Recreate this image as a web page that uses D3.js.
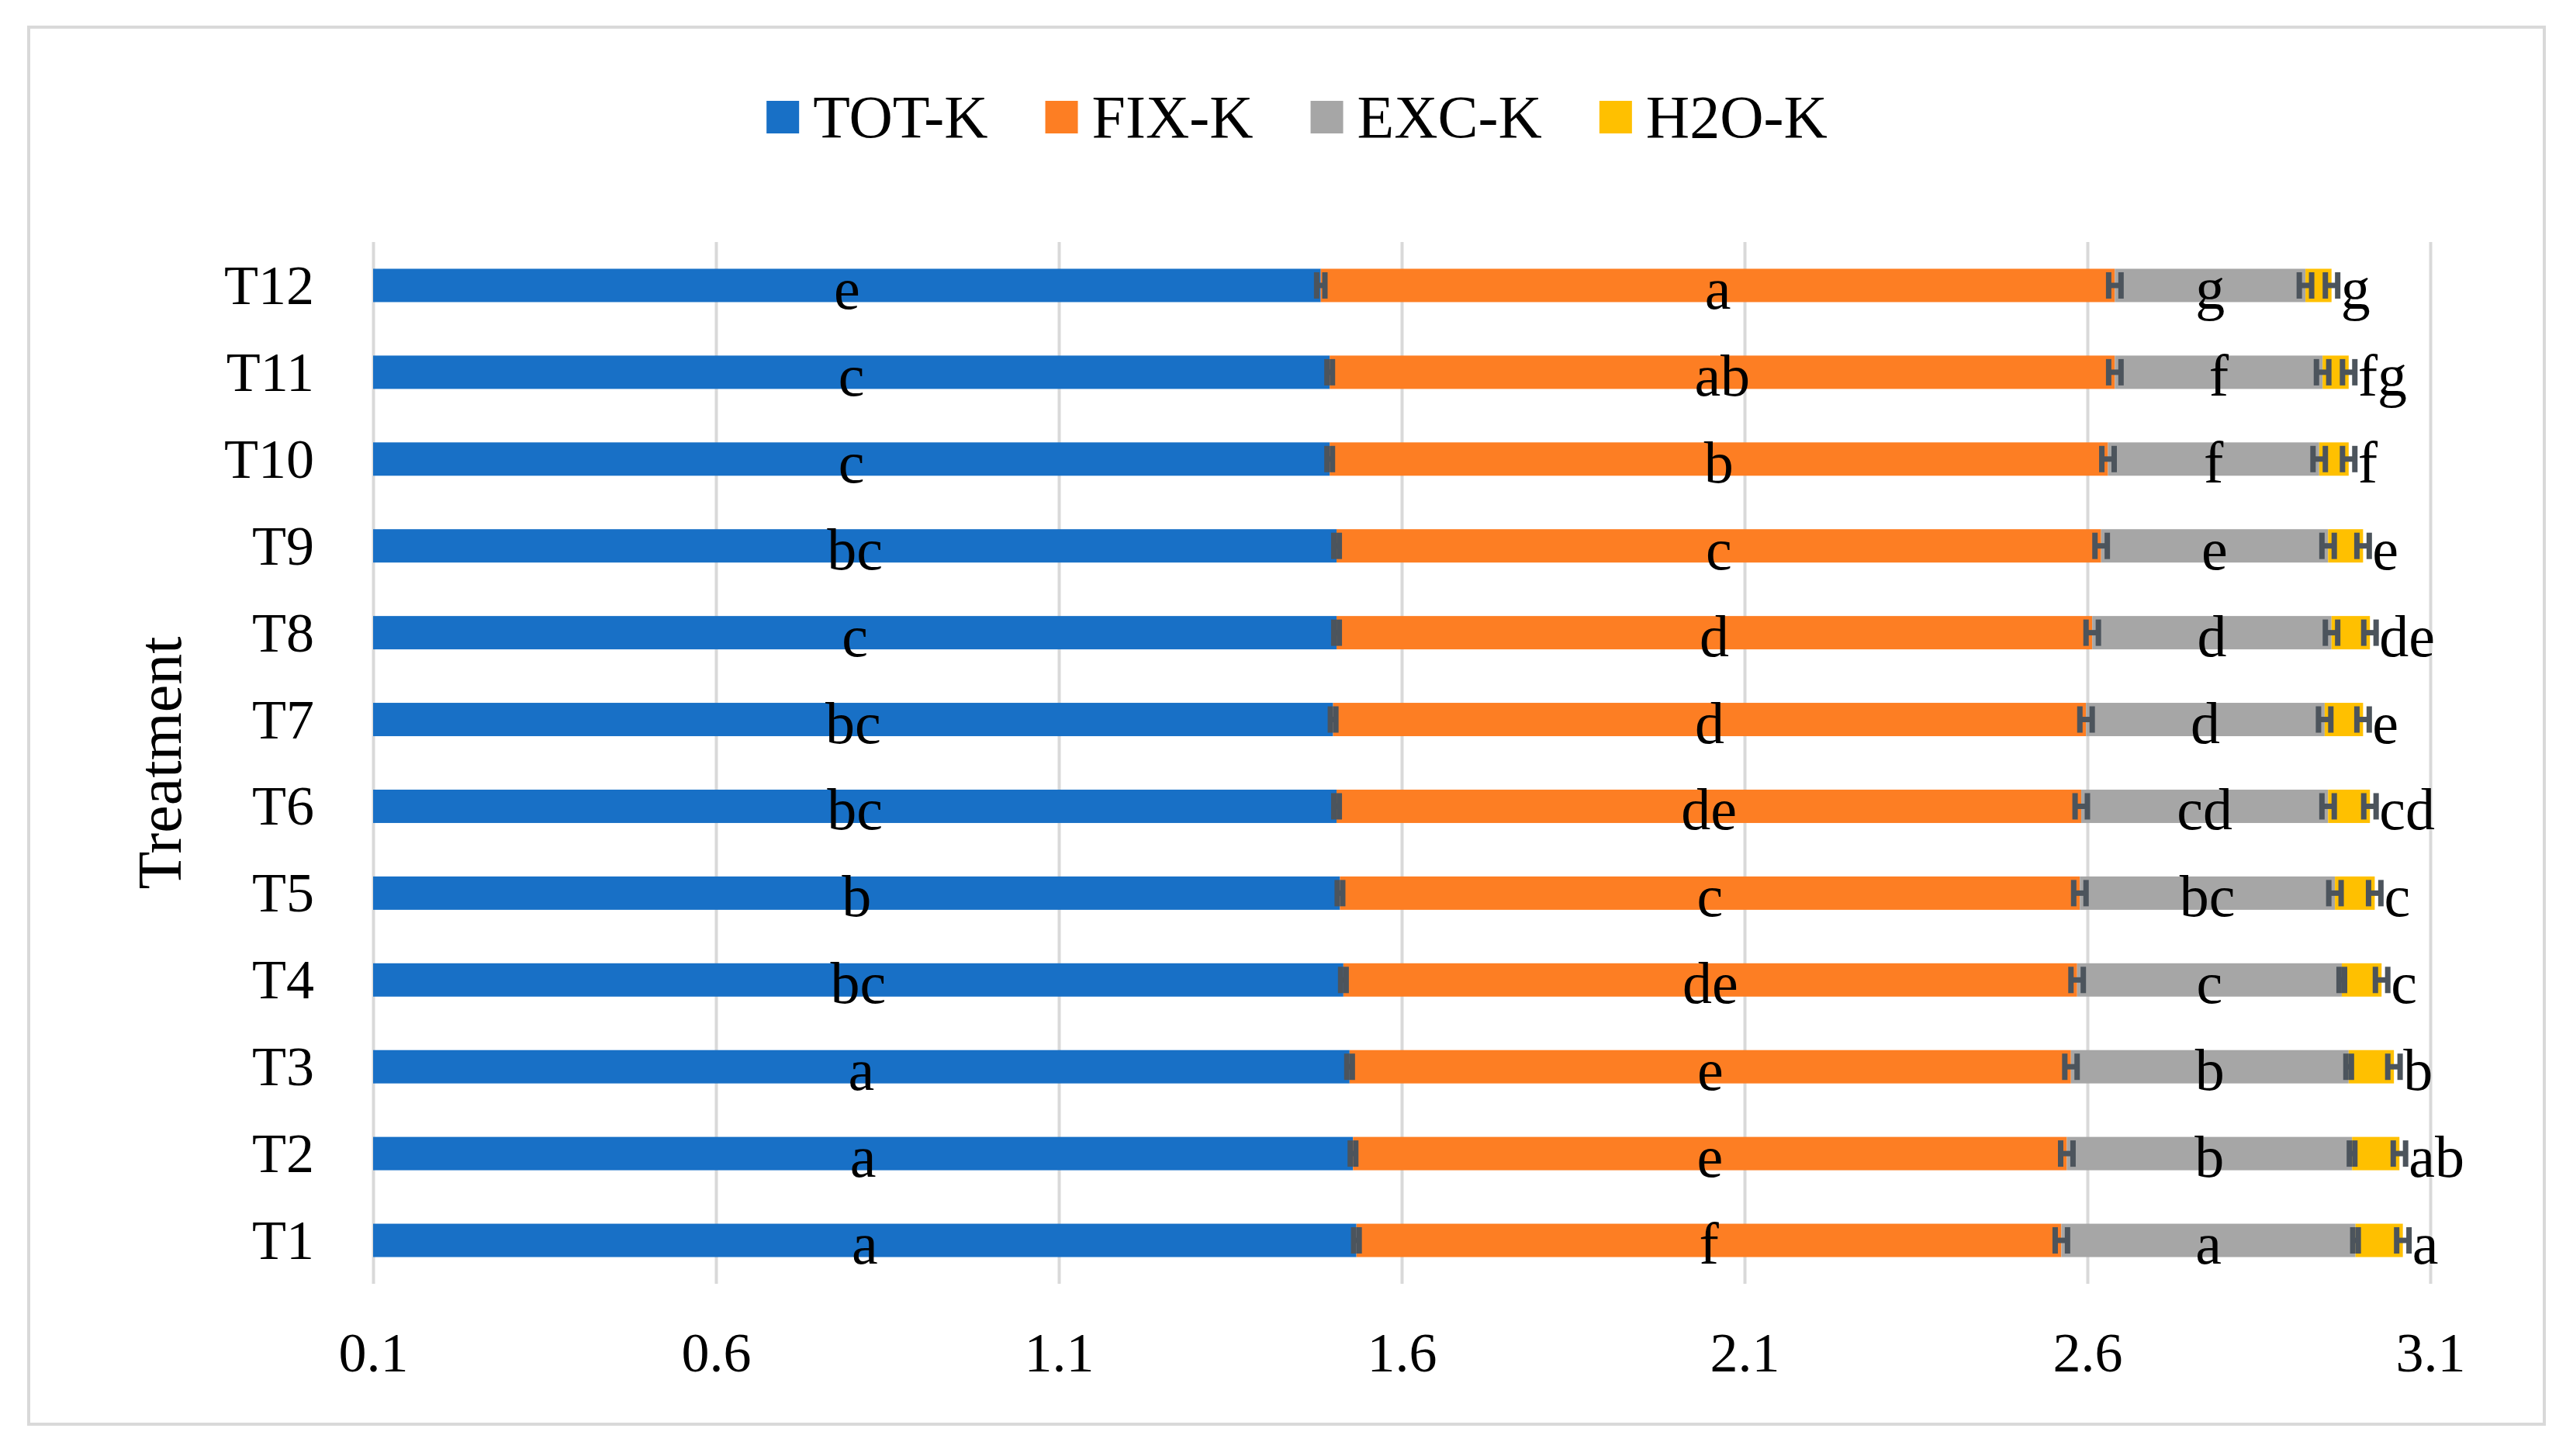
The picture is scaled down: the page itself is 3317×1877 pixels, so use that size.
<!DOCTYPE html>
<html>
<head>
<meta charset="utf-8">
<script src="https://cdn.jsdelivr.net/npm/d3@7"></script>
<style>
  html, body { margin: 0; padding: 0; background: #ffffff; }
  svg { display: block; }
</style>
</head>
<body>
<div id="chart"></div>
<script>
// ---------------- data ----------------
const categories = ["T1","T2","T3","T4","T5","T6","T7","T8","T9","T10","T11","T12"];
const seriesNames = ["TOT-K","FIX-K","EXC-K","H2O-K"];
const totK = [1.534,1.529,1.524,1.515,1.510,1.505,1.500,1.505,1.505,1.495,1.495,1.482];
const fixK = [1.028,1.041,1.052,1.070,1.079,1.086,1.098,1.102,1.115,1.135,1.145,1.158];
const excK = [0.429,0.416,0.405,0.386,0.372,0.360,0.348,0.349,0.331,0.308,0.303,0.278];
const h2oK = [0.069,0.069,0.066,0.058,0.058,0.061,0.056,0.056,0.051,0.043,0.038,0.038];
const totErr = [0.004,0.004,0.004,0.004,0.004,0.004,0.004,0.004,0.004,0.004,0.004,0.006];
const fixErr = [0.009,0.009,0.009,0.009,0.009,0.009,0.009,0.009,0.009,0.009,0.009,0.009];
const excErr = [0.004,0.004,0.004,0.004,0.009,0.009,0.009,0.009,0.009,0.009,0.009,0.009];
const h2oErr = [0.009,0.009,0.009,0.009,0.009,0.009,0.009,0.009,0.009,0.009,0.009,0.009];
const totLetters = ["a","a","a","bc","b","bc","bc","c","bc","c","c","e"];
const fixLetters = ["f","e","e","de","c","de","d","d","c","b","ab","a"];
const excLetters = ["a","b","b","c","bc","cd","d","d","e","f","f","g"];
const h2oLetters = ["a","ab","b","c","c","cd","e","de","e","f","fg","g"];
const xTicks = [0.1,0.6,1.1,1.6,2.1,2.6,3.1];
const colors = ["#1870c6","#fd7e23","#a6a6a6","#ffc000"];
const axisTitle = "Treatment";

// ---------------- build ----------------
const W = 3317, H = 1877;
const FONT = "'Liberation Serif', 'Times New Roman', serif";
const svg = d3.select("#chart").append("svg")
  .attr("width", W).attr("height", H)
  .attr("viewBox", `0 0 ${W} ${H}`);

svg.append("rect").attr("x",0).attr("y",0).attr("width",W).attr("height",H).attr("fill","#fff");
// outer frame
svg.append("rect").attr("x",37).attr("y",35).attr("width",3243).attr("height",1801)
  .attr("fill","none").attr("stroke","#d9d9d9").attr("stroke-width",4);

const plot = {left: 481, right: 3133, top: 312, bottom: 1655};

const x = d3.scaleLinear().domain([xTicks[0], xTicks[xTicks.length-1]])
  .range([plot.left, plot.right]).clamp(true);
const y = d3.scaleBand().domain(categories.slice().reverse())
  .range([plot.top, plot.bottom]).paddingInner(0.616).paddingOuter(0.308);

// gridlines + tick labels via axis
const xAxis = d3.axisBottom(x).tickValues(xTicks).tickFormat(d3.format(".1f"))
  .tickSizeInner(-(plot.bottom - plot.top)).tickSizeOuter(0);
const gx = svg.append("g").attr("transform", `translate(0,${plot.bottom})`).call(xAxis);
gx.select(".domain").remove();
gx.selectAll(".tick line").attr("stroke","#d9d9d9").attr("stroke-width",4);
gx.selectAll(".tick text")
  .attr("y", 113).attr("dy", null)
  .attr("font-family", FONT).attr("font-size", 72).attr("fill","#000");

// table for stack
const rows = categories.map((c,i) => ({
  cat: c, "TOT-K": totK[i], "FIX-K": fixK[i], "EXC-K": excK[i], "H2O-K": h2oK[i]
}));
const errs = [totErr, fixErr, excErr, h2oErr];
const letters = [totLetters, fixLetters, excLetters, h2oLetters];
const stacked = d3.stack().keys(seriesNames)(rows);

const gBars = svg.append("g");
stacked.forEach((layer, si) => {
  gBars.append("g").attr("fill", colors[si])
    .selectAll("rect").data(layer).join("rect")
    .attr("x", d => x(d[0]))
    .attr("y", d => y(d.data.cat))
    .attr("width", d => Math.max(0, x(d[1]) - x(d[0])))
    .attr("height", y.bandwidth());
});

// error bars
const errColor = "#4c545c";
const capHalf = 17;
const gErr = svg.append("g").attr("stroke", errColor).attr("stroke-width", 7).attr("fill","none");
stacked.forEach((layer, si) => {
  layer.forEach((d, i) => {
    const cy = y(d.data.cat) + y.bandwidth()/2;
    const e = errs[si][i];
    const x0 = x(d[1] - e), x1 = x(d[1] + e);
    gErr.append("line").attr("x1", x0).attr("x2", x1).attr("y1", cy).attr("y2", cy);
    gErr.append("line").attr("x1", x0).attr("x2", x0).attr("y1", cy-capHalf).attr("y2", cy+capHalf);
    gErr.append("line").attr("x1", x1).attr("x2", x1).attr("y1", cy-capHalf).attr("y2", cy+capHalf);
  });
});

// letters
const gLab = svg.append("g").attr("font-family", FONT).attr("font-size", 76).attr("fill", "#000");
stacked.forEach((layer, si) => {
  layer.forEach((d, i) => {
    const cy = y(d.data.cat) + y.bandwidth()/2;
    if (si < 3) {
      const lo = Math.max(d[0], xTicks[0]);
      gLab.append("text").attr("x", x((lo + d[1]) / 2)).attr("y", cy + 30)
        .attr("text-anchor","middle").text(letters[si][i]);
    } else {
      gLab.append("text").attr("x", x(d[1]) + 12).attr("y", cy + 30)
        .attr("text-anchor","start").text(letters[si][i]);
    }
  });
});

// category labels
svg.append("g").selectAll("text").data(categories).join("text")
  .attr("x", 405).attr("y", d => y(d) + y.bandwidth()/2 + 24)
  .attr("text-anchor","end").attr("font-family", FONT).attr("font-size", 72).attr("fill","#000")
  .text(d => d);

// axis title
svg.append("text")
  .attr("transform", `translate(233,${(plot.top+plot.bottom)/2}) rotate(-90)`)
  .attr("text-anchor","middle").attr("font-family", FONT).attr("font-size", 80).attr("fill","#000")
  .text(axisTitle);

// legend
const legend = svg.append("g");
const sw = 42, gapT = 18, gapItem = 74, legendCY = 151, legendCX = 1672;
let cursor = 0;
seriesNames.forEach((name, i) => {
  const g = legend.append("g");
  g.append("rect").attr("x", 0).attr("y", legendCY - sw/2).attr("width", sw).attr("height", sw).attr("fill", colors[i]);
  const t = g.append("text").attr("x", sw + gapT).attr("y", legendCY + 26)
    .attr("font-family", FONT).attr("font-size", 78).attr("fill","#000").text(name);
  const w = sw + gapT + t.node().getComputedTextLength();
  g.attr("transform", `translate(${cursor},0)`);
  cursor += w + gapItem;
});
const total = cursor - gapItem;
legend.attr("transform", `translate(${legendCX - total/2},0)`);
</script>
</body>
</html>
